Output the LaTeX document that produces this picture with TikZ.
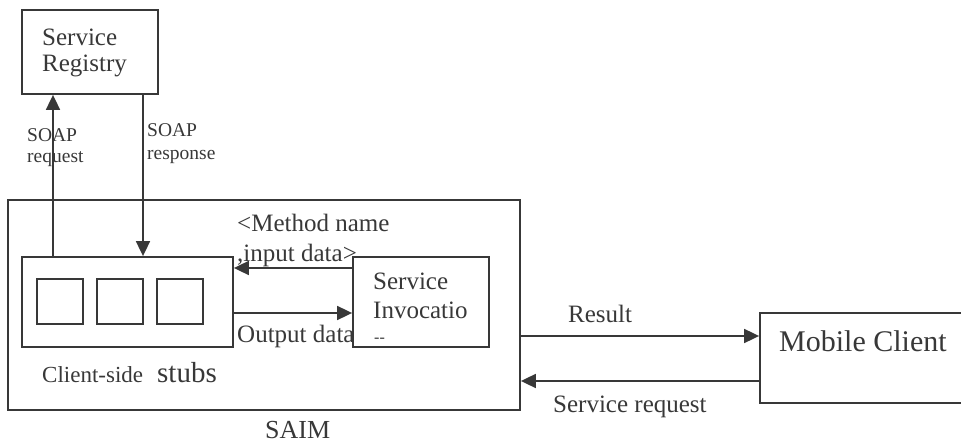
\documentclass[tikz,border=0pt]{standalone}
\usepackage{fontspec}
\setmainfont{Liberation Serif}
\usetikzlibrary{arrows.meta}
\definecolor{ink}{HTML}{383838}
\begin{document}
\begin{tikzpicture}[x=1pt,y=-1pt,
  box/.style={draw=ink,line width=1.8pt,rectangle,inner sep=0pt},
  arr/.style={draw=ink,line width=1.8pt,-{Triangle[length=15pt,width=14pt]}},
  lbl/.style={text=ink,inner sep=0pt,anchor=base west},
  fs/.style={font=\fontsize{#1}{#1}\selectfont}]
\useasboundingbox (0,0) rectangle (961,443);

% boxes
\node[box,minimum width=136pt,minimum height=84pt] (reg) at (90,52) {};
\node[box,minimum width=512pt,minimum height=210pt] (saim) at (264,305) {};
\node[box,minimum width=211pt,minimum height=90pt] (stubs) at (127.5,302) {};
\node[box,minimum width=46pt,minimum height=45pt] (sq1) at (60,301.5) {};
\node[box,minimum width=46pt,minimum height=45pt] (sq2) at (120,301.5) {};
\node[box,minimum width=46pt,minimum height=45pt] (sq3) at (180,301.5) {};
\node[box,minimum width=136pt,minimum height=90pt] (inv) at (421,302) {};
\node[box,minimum width=215pt,minimum height=90pt] (mob) at (867.5,358) {};

% connectors
\coordinate (reqx) at (53,0);
\coordinate (resx) at (143,0);
\coordinate (my) at (0,268);
\coordinate (oy) at (0,313);
\coordinate (ry) at (0,336);
\coordinate (sy) at (0,381);
\draw[arr] (reqx |- stubs.north) -- (reqx |- reg.south);
\draw[arr] (resx |- reg.south) -- (resx |- stubs.north);
\draw[arr] (inv.west |- my) -- (stubs.east |- my);
\draw[arr] (stubs.east |- oy) -- (inv.west |- oy);
\draw[arr] (saim.east |- ry) -- (mob.west |- ry);
\draw[arr] (mob.west |- sy) -- (saim.east |- sy);

% texts
\node[lbl,fs=25] (t1) at (42,46) {Service};
\node[lbl,fs=25] (t2) at (42,72) {Registry};
\node[lbl,fs=19.5] (t3) at (27,142) {SOAP};
\node[lbl,fs=19.5] (t4) at (27,163) {request};
\node[lbl,fs=19.5] (t5) at (147,137) {SOAP};
\node[lbl,fs=19.5] (t6) at (147,160) {response};
\node[lbl,fs=25] (t7) at (237,232) {<Method name};
\node[lbl,fs=25] (t8) at (237,262) {,input data>};
\node[lbl,fs=25] (t9) at (237,343) {Output data};
\node[lbl,fs=25] (t10) at (373,290) {Service};
\node[lbl,fs=25] (t11) at (373,319) {Invocatio};
\node[lbl,fs=16] (t12) at (374,343) {-{}-};
\node[lbl,fs=23] (t13) at (42,383) {Client-side};
\node[lbl,fs=29] (t14) at (157,383) {stubs};
\node[lbl,fs=26] (t15) at (265,438) {SAIM};
\node[lbl,fs=25] (t16) at (568,323) {Result};
\node[lbl,fs=25] (t17) at (553,413) {Service request};
\node[lbl,fs=30] (t18) at (779,352) {Mobile Client};
\end{tikzpicture}
\end{document}
